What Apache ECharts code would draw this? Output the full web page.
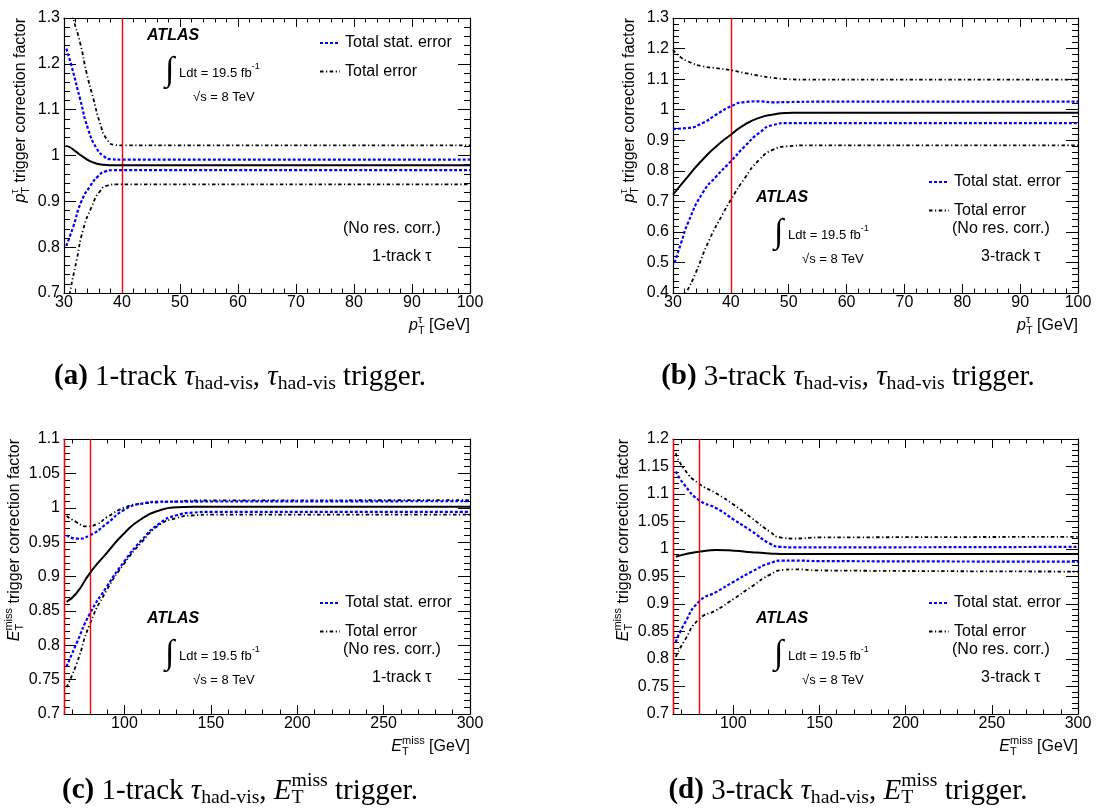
<!DOCTYPE html>
<html><head><meta charset="utf-8">
<script src="https://cdn.jsdelivr.net/npm/echarts@6.0.0/dist/echarts.min.js"></script>
<style>html,body{margin:0;padding:0;background:#fff}#c{width:1096px;height:808px}</style>
</head><body><div id="c"></div>
<script>
// ---------------- DATA ----------------
// (a) 1-track, tau trigger: x = pT [GeV]
const a_central = [[30.3,1.021],[31.0,1.018],[32.0,1.009],[33.3,0.997],[35.0,0.985],[36.8,0.980],[38.5,0.979],[100,0.979]];
const a_statUp  = [[30.4,1.233],[31.3,1.195],[32.8,1.122],[34.2,1.056],[35.6,1.016],[36.8,0.999],[38.0,0.992],[40,0.991],[100,0.991]];
const a_statDn  = [[30.4,0.803],[31.6,0.845],[33.0,0.900],[34.5,0.933],[35.9,0.955],[37.1,0.965],[38.5,0.968],[100,0.968]];
const a_totUp   = [[31.2,1.33],[31.6,1.30],[32.8,1.245],[33.9,1.180],[35.1,1.122],[36.2,1.071],[37.4,1.035],[38.8,1.023],[40,1.022],[100,1.022]];
const a_totDn   = [[30.7,0.675],[31.0,0.700],[32.2,0.773],[33.3,0.838],[34.8,0.889],[36.2,0.922],[37.6,0.935],[39.0,0.937],[100,0.937]];
// (b) 3-track, tau trigger
const b_central = [[30.0,0.722],[32.6,0.782],[35.1,0.836],[37.5,0.880],[40.0,0.918],[42.4,0.951],[44.9,0.973],[47.3,0.984],[49.7,0.989],[53.0,0.990],[100,0.990]];
const b_statUp  = [[30.0,0.937],[32.6,0.940],[35.1,0.956],[37.5,0.984],[40.0,1.011],[42.4,1.025],[44.9,1.027],[47.3,1.024],[50.0,1.025],[55.0,1.026],[100,1.026]];
const b_statDn  = [[30.3,0.500],[31.4,0.564],[32.6,0.630],[35.1,0.727],[37.5,0.782],[40.0,0.831],[42.4,0.880],[44.9,0.924],[47.3,0.950],[49.7,0.956],[100,0.956]];
const b_totUp   = [[30.0,1.196],[31.3,1.172],[32.6,1.158],[35.1,1.142],[37.5,1.136],[40.0,1.129],[42.4,1.120],[44.9,1.111],[47.3,1.104],[49.7,1.100],[53.0,1.098],[100,1.098]];
const b_totDn   = [[31.8,0.380],[32.3,0.400],[33.9,0.465],[36.3,0.575],[38.7,0.662],[40.0,0.705],[42.4,0.776],[44.9,0.836],[47.3,0.869],[49.7,0.880],[53.4,0.883],[100,0.883]];
// (c) 1-track, MET trigger: x = ETmiss [GeV]
const c_central = [[66.5,0.863],[72.3,0.876],[80.0,0.905],[89.7,0.934],[99.9,0.963],[110.0,0.984],[120.2,0.996],[130.2,1.0006],[140.0,1.0015],[300,1.0015]];
const c_statUp  = [[66.5,0.960],[72.3,0.955],[80.0,0.960],[89.7,0.977],[99.9,0.997],[110.0,1.006],[120.2,1.0088],[130.0,1.009],[300,1.0095]];
const c_statDn  = [[66.5,0.769],[72.3,0.803],[80.0,0.846],[89.7,0.885],[99.9,0.922],[110.0,0.953],[120.2,0.977],[130.2,0.989],[140.0,0.993],[150.0,0.994],[300,0.994]];
const c_totUp   = [[66.5,0.988],[72.3,0.979],[78.1,0.973],[84.0,0.976],[89.7,0.986],[99.9,1.000],[110.0,1.006],[120.2,1.008],[130.2,1.009],[140.0,1.0105],[300,1.011]];
const c_totDn   = [[66.5,0.739],[72.3,0.773],[80.0,0.831],[89.7,0.880],[99.9,0.919],[110.0,0.950],[120.2,0.975],[130.2,0.985],[140.0,0.989],[150.0,0.990],[300,0.990]];
// (d) 3-track, MET trigger
const d_central = [[66.6,0.986],[73.8,0.992],[80.0,0.995],[90.2,0.998],[100.5,0.997],[110.8,0.994],[121.0,0.992],[131.3,0.991],[300,0.991]];
const d_statUp  = [[66.6,1.141],[71.8,1.116],[80.0,1.089],[90.2,1.074],[100.5,1.053],[110.8,1.032],[121.0,1.010],[127.2,1.004],[135.4,1.003],[300,1.004]];
const d_statDn  = [[66.6,0.831],[71.8,0.865],[80.0,0.904],[90.2,0.922],[100.5,0.941],[110.8,0.959],[121.0,0.974],[129.2,0.979],[135.4,0.979],[150.0,0.978],[300,0.977]];
const d_totUp   = [[66.6,1.174],[71.8,1.144],[80.0,1.119],[90.2,1.101],[100.5,1.080],[110.8,1.056],[121.0,1.032],[127.2,1.021],[135.4,1.019],[150.0,1.021],[300,1.022]];
const d_totDn   = [[66.6,0.804],[71.8,0.834],[80.0,0.872],[90.2,0.889],[100.5,0.910],[110.8,0.932],[121.0,0.953],[129.2,0.962],[135.4,0.963],[150.0,0.961],[300,0.959]];
// vertical cut lines
const a_cuts = [40];
const b_cuts = [40];
const c_cuts = [65, 80];
const d_cuts = [65, 80];
// axis ranges / ticks
const ptRange = [30, 100], ptInterval = 10;
const etRange = [65, 300];
const etMajor = [100, 150, 200, 250, 300];
const etMinor = [70,80,90,110,120,130,140,160,170,180,190,210,220,230,240,260,270,280,290];
const a_yRange = [0.7, 1.3], a_yInterval = 0.1;
const b_yRange = [0.4, 1.3], b_yInterval = 0.1;
const c_yRange = [0.7, 1.1], c_yInterval = 0.05;
const d_yRange = [0.7, 1.2], d_yInterval = 0.05;
const legendNames = ['Total stat. error', 'Total error'];

// ---------------- LAYOUT / STYLE ----------------
const SANS = "'Liberation Sans'";
const SERIF = "'Liberation Serif'";
const frames = [[64,18,406,275],[673,18,405,275],[64,439,406,275],[673,439,405,275]];
const panels = [
  {x:'pt', yR:a_yRange, yI:a_yInterval, d:[a_central,a_statUp,a_statDn,a_totUp,a_totDn], cuts:a_cuts},
  {x:'pt', yR:b_yRange, yI:b_yInterval, d:[b_central,b_statUp,b_statDn,b_totUp,b_totDn], cuts:b_cuts},
  {x:'et', yR:c_yRange, yI:c_yInterval, d:[c_central,c_statUp,c_statDn,c_totUp,c_totDn], cuts:c_cuts},
  {x:'et', yR:d_yRange, yI:d_yInterval, d:[d_central,d_statUp,d_statDn,d_totUp,d_totDn], cuts:d_cuts}
];

const grid = [], xAxis = [], yAxis = [], series = [], legend = [];
const lineBase = {show:true, onZero:false, lineStyle:{color:'#000', width:1.2}};
const tickStyle = {color:'#000', width:1};
const labelStyle = {color:'#000', fontSize:16, fontFamily:SANS};

panels.forEach((p, gi) => {
  const f = frames[gi];
  grid.push({left:f[0], top:f[1], width:f[2], height:f[3], containLabel:false, outerBoundsMode:'none'});
  let xMain = -1;
  ['bottom','top'].forEach(pos => {
    const ax = {
      type:'value', gridIndex:gi, position:pos,
      axisLine:lineBase, splitLine:{show:false}, minorSplitLine:{show:false},
      axisLabel:Object.assign({show:pos==='bottom', margin:2}, labelStyle),
      axisTick:{show:true, inside:true, length:9, lineStyle:tickStyle}
    };
    if (p.x === 'pt') {
      ax.min = ptRange[0]; ax.max = ptRange[1]; ax.interval = ptInterval;
      ax.minorTick = {show:true, splitNumber:5, length:4.5, lineStyle:tickStyle};
    } else {
      ax.min = etRange[0]; ax.max = etRange[1];
      ax.axisTick.customValues = etMajor;
      ax.axisLabel.customValues = etMajor;
      ax.minorTick = {show:false};
    }
    if (pos === 'bottom') xMain = xAxis.length;
    xAxis.push(ax);
    if (p.x === 'et') {
      xAxis.push({
        type:'value', gridIndex:gi, position:pos, min:etRange[0], max:etRange[1],
        axisLine:{show:false, onZero:false}, splitLine:{show:false}, axisLabel:{show:false},
        axisTick:{show:true, inside:true, length:4.5, lineStyle:tickStyle, customValues:etMinor},
        minorTick:{show:false}
      });
    }
  });
  let yMain = -1;
  ['left','right'].forEach(pos => {
    if (pos === 'left') yMain = yAxis.length;
    yAxis.push({
      type:'value', gridIndex:gi, position:pos, min:p.yR[0], max:p.yR[1], interval:p.yI,
      axisLine:lineBase, splitLine:{show:false}, minorSplitLine:{show:false},
      axisLabel:Object.assign({show:pos==='left', margin:4}, labelStyle),
      axisTick:{show:true, inside:true, length:12, lineStyle:tickStyle},
      minorTick:{show:true, splitNumber:5, length:6, lineStyle:tickStyle}
    });
  });
  const blue = {color:'#0000ff', width:2.2, type:[3,2]};
  const blk = {color:'#000', width:1.8, type:[3.5,2.5,1.2,2.5]};
  const mk = (name, data, style, color, z, extra) => Object.assign({
    type:'line', name, data, xAxisIndex:xMain, yAxisIndex:yMain,
    showSymbol:false, symbol:'none', smooth:0.6,
    color, lineStyle:style, z, silent:true, clip:true
  }, extra || {});
  series.push(mk('Central', p.d[0], {color:'#000', width:2, type:'solid'}, '#000', 5, {
    markLine:{silent:true, symbol:'none', label:{show:false}, animation:false,
      lineStyle:{color:'#ff0000', width:1.4, type:'solid'},
      data:p.cuts.map(v => ({xAxis:v}))}
  }));
  series.push(mk(legendNames[0], p.d[1], blue, '#0000ff', 4));
  series.push(mk(legendNames[0], p.d[2], blue, '#0000ff', 4));
  series.push(mk(legendNames[1], p.d[3], blk, '#000', 3));
  series.push(mk(legendNames[1], p.d[4], blk, '#000', 3));
  const upper = gi === 0;
  const c1 = upper ? 25 : 164;
  legend.push({
    data:legendNames, orient:'vertical', left:f[0] + 255, top:f[1] + c1 - 8,
    itemWidth:20, itemHeight:14, itemGap:12.5, padding:0, selectedMode:false,
    itemStyle:{opacity:0},
    textStyle:{color:'#000', fontSize:16, fontFamily:SANS}
  });
});

// ---------------- TEXT HELPERS ----------------
const mctx = document.createElement('canvas').getContext('2d');
function fontStr(p){ return (p.style||'normal') + ' ' + (p.weight||'normal') + ' ' + p.size + 'px ' + p.family; }
function measure(p){ mctx.font = fontStr(p); return mctx.measureText(p.t).width; }
function layoutPieces(pieces){
  let x = 0; const out = [];
  for (let i = 0; i < pieces.length; i++) {
    const p = pieces[i];
    if (p.stack) {
      const q = pieces[i+1];
      out.push({p, x}); out.push({p:q, x});
      x += Math.max(measure(p), measure(q)); i++; continue;
    }
    out.push({p, x}); x += measure(p);
  }
  return {items:out, width:x};
}
function textGroup(pieces, o){
  const L = layoutPieces(pieces);
  const off = o.align === 'right' ? -L.width : (o.align === 'center' ? -L.width/2 : 0);
  return {type:'group', x:o.x, y:o.y, rotation:o.rotation || 0, silent:true,
    children:L.items.map(it => ({type:'text', x:off + it.x, y:it.p.dy || 0,
      style:{text:it.p.t, font:fontStr(it.p), fill:'#000', align:'left', verticalAlign:'middle'}}))};
}
const S = (t, size, extra) => Object.assign({t, size:size || 16, family:SANS}, extra || {});
const ptSym = [S('p',16,{style:'italic'}), S('τ',11,{dy:-6, stack:true}), S('T',11,{dy:5})];
const etSym = [S('E',16,{style:'italic'}), S('miss',11,{dy:-6, stack:true}), S('T',11,{dy:5})];

const graphic = [];
panels.forEach((p, gi) => {
  const f = frames[gi];
  const L = f[0], T = f[1], R = f[0] + f[2], B = f[1] + f[3];
  const sym = p.x === 'pt' ? ptSym : etSym;
  // axis titles
  graphic.push(textGroup(sym.concat([S(' [GeV]')]), {x:R, y:B + 33, align:'right'}));
  const yOff = p.x === 'pt' ? 43 : 49;
  graphic.push(textGroup(sym.concat([S(' trigger correction factor')]), {x:L - yOff, y:T, align:'right', rotation:Math.PI/2}));
  // ATLAS block
  const upper = gi === 0;
  const a0 = upper ? 18 : 180;
  graphic.push(textGroup([S('ATLAS',16,{weight:'bold', style:'italic'})], {x:L + 83, y:T + a0}));
  graphic.push(textGroup([{t:'∫', size:34, family:SERIF}], {x:L + 101, y:T + a0 + 35}));
  graphic.push(textGroup([S('Ldt = 19.5 fb',13), S('-1',9,{dy:-6})], {x:L + 115, y:T + a0 + 37}));
  graphic.push(textGroup([S('√s = 8 TeV',13)], {x:L + 129, y:T + a0 + 61}));
  graphic.push(textGroup([S('(No res. corr.)')], {x:L + 279, y:T + 211}));
  graphic.push(textGroup([S((gi % 2 === 0 ? '1' : '3') + '-track τ')], {x:L + 308, y:T + 239}));
});

// captions
const C = (t, extra) => Object.assign({t, size:22, family:SERIF}, extra || {});
const sub = t => C(t, {size:15, dy:5});
const capTau = [C('τ',{style:'italic'}), sub('had-vis')];
const capEt = [C('E',{style:'italic'}), C('miss',{size:15, dy:-8, stack:true}), C('T',{size:15, dy:5})];
const captions = [
  {lab:'(a)', mid:[C(' 1-track ')].concat(capTau, [C(', ')], capTau, [C(' trigger.')]), x:240, y:377},
  {lab:'(b)', mid:[C(' 3-track ')].concat(capTau, [C(', ')], capTau, [C(' trigger.')]), x:848, y:377},
  {lab:'(c)', mid:[C(' 1-track ')].concat(capTau, [C(', ')], capEt, [C(' trigger.')]), x:240, y:791},
  {lab:'(d)', mid:[C(' 3-track ')].concat(capTau, [C(', ')], capEt, [C(' trigger.')]), x:848, y:791}
];
const capPieces = c => [C(c.lab,{weight:'bold'})].concat(c.mid);
const wC = layoutPieces(capPieces(captions[2])).width;
const sc = 356 / wC;
captions.forEach(c => {
  const pcs = capPieces(c).map(p => Object.assign({}, p, {size:p.size * sc, dy:(p.dy || 0) * sc}));
  graphic.push(textGroup(pcs, {x:c.x, y:c.y, align:'center'}));
});

const chart = echarts.init(document.getElementById('c'), null, {renderer:'canvas'});
chart.setOption({
  animation:false, backgroundColor:'#fff',
  grid, xAxis, yAxis, series, legend, graphic
});
</script></body></html>
